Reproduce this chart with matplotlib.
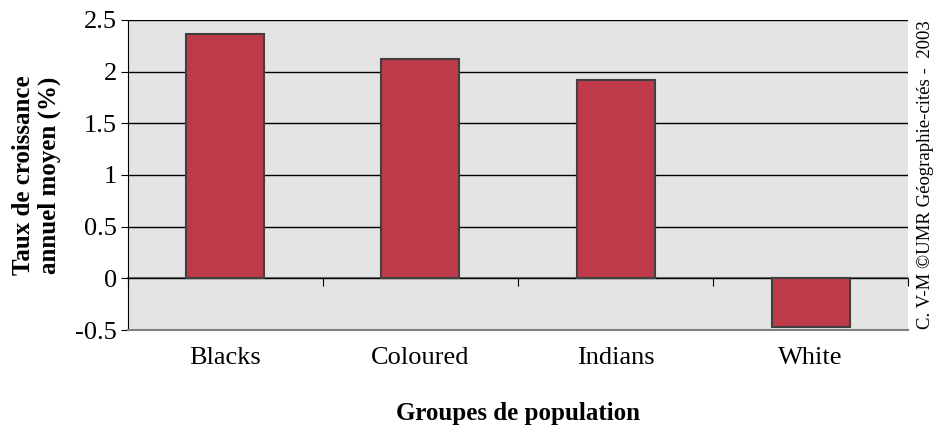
import matplotlib.pyplot as plt
import numpy as np

plt.rcParams['font.family'] = ['Liberation Serif', 'DejaVu Serif']

groupes = ['Blacks', 'Coloured', 'Indians', 'White']
taux = [2.36, 2.12, 1.92, -0.47]
y_ticks = [-0.5, 0, 0.5, 1, 1.5, 2, 2.5]
y_labels = ['-0.5', '0', '0.5', '1', '1.5', '2', '2.5']

fig = plt.figure(figsize=(9.34, 4.25), dpi=100)
ax = fig.add_axes([0.137, 0.2235, 0.9722 - 0.137, 0.953 - 0.2235])
ax.set_facecolor('#e4e4e4')

x = np.arange(len(groupes))
ax.bar(x, taux, width=0.4, color='#be3a4a', edgecolor='#404040', linewidth=1.5, zorder=3)

ax.set_xlim(-0.5, len(groupes) - 0.5)
ax.set_ylim(-0.5, 2.5)
ax.set_yticks(y_ticks)
ax.set_yticklabels(y_labels, fontsize=19)
ax.yaxis.grid(True, color='black', linewidth=1)
ax.set_axisbelow(True)
ax.tick_params(axis='y', direction='out', length=5, color='black', pad=3)

ax.set_xticks(x)
ax.set_xticklabels(groupes, fontsize=19)
ax.tick_params(axis='x', length=0, pad=12)

for s in ['top', 'right']:
    ax.spines[s].set_visible(False)
ax.spines['left'].set_color('black')
ax.spines['bottom'].set_color('#808080')
ax.spines['bottom'].set_linewidth(1.5)

# category axis crossing at zero, ticks between categories
ax2 = ax.secondary_xaxis(1 / 6)
ax2.set_xticks(np.arange(len(groupes) + 1) - 0.5)
ax2.set_xticklabels([])
ax2.tick_params(direction='out', length=6, color='black')
ax2.spines['bottom'].set_color('#808080')
ax2.spines['bottom'].set_linewidth(1.5)

ax.set_ylabel('Taux de croissance\nannuel moyen (%)', fontsize=18, fontweight='bold',
              labelpad=10, linespacing=1.15)
ax.set_xlabel('Groupes de population', fontsize=18, fontweight='bold', labelpad=24)

fig.text(0.9995, 0.588, 'C. V-M ©UMR Géographie-cités -  2003', rotation=90,
         fontsize=13.5, ha='right', va='center')

fig.savefig('out.png', dpi=100)
